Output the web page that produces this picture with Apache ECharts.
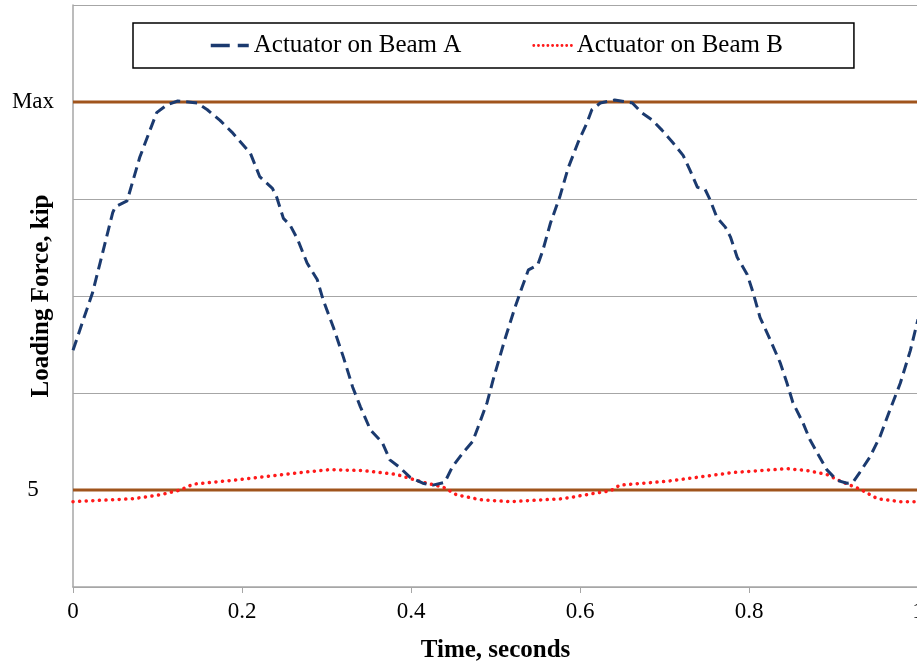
<!DOCTYPE html>
<html>
<head>
<meta charset="utf-8">
<script src="https://cdn.jsdelivr.net/npm/echarts@6/dist/echarts.min.js"></script>
<style>
html,body{margin:0;padding:0;background:#fff;}
#chart{width:917px;height:664px;}
</style>
</head>
<body>
<div id="chart"></div>
<script>
// ---- data ----
var seriesNames = ['Actuator on Beam A', 'Actuator on Beam B'];
var xTicks = [0, 0.2, 0.4, 0.6, 0.8, 1];
var yTickLabels = {1: '5', 5: 'Max'};
var refLevels = [1, 5];

var timeA = [0,0.012,0.023,0.032,0.047,0.050,0.064,0.079,0.099,0.111,0.124,0.147,0.159,0.174,0.188,0.210,0.221,0.236,0.241,0.249,0.257,0.266,0.277,0.289,0.296,0.308,0.320,0.331,0.340,0.352,0.366,0.375,0.387,0.399,0.414,0.426,0.440,0.449,0.462,0.473,0.479,0.490,0.497,0.511,0.523,0.531,0.539,0.550,0.556,0.565,0.576,0.586,0.598,0.608,0.614,0.624,0.641,0.662,0.673,0.686,0.697,0.710,0.722,0.730,0.739,0.748,0.754,0.762,0.772,0.778,0.786,0.798,0.805,0.813,0.825,0.837,0.845,0.852,0.864,0.872,0.881,0.892,0.904,0.916,0.923,0.931,0.943,0.955,0.967,0.979,0.991,1.0];
var forceA = [2.44,2.75,3.03,3.34,3.86,3.92,3.98,4.43,4.89,4.97,5.01,4.99,4.92,4.81,4.69,4.47,4.23,4.11,4.02,3.80,3.73,3.58,3.34,3.17,2.96,2.68,2.37,2.06,1.86,1.62,1.49,1.31,1.23,1.13,1.07,1.05,1.08,1.24,1.39,1.50,1.64,1.90,2.13,2.55,2.88,3.08,3.27,3.32,3.47,3.75,4.02,4.32,4.59,4.78,4.92,4.99,5.02,4.99,4.89,4.81,4.71,4.58,4.45,4.30,4.12,4.10,3.99,3.81,3.71,3.61,3.40,3.22,3.03,2.78,2.55,2.31,2.10,1.90,1.69,1.52,1.38,1.21,1.10,1.07,1.08,1.18,1.34,1.55,1.83,2.10,2.44,2.76];

var timeB = [0,0.071,0.103,0.127,0.142,0.189,0.269,0.304,0.343,0.383,0.414,0.438,0.454,0.482,0.517,0.580,0.620,0.636,0.647,0.703,0.781,0.845,0.869,0.892,0.911,0.931,0.952,0.979,1.0];
var forceB = [0.88,0.91,0.95,1.00,1.06,1.10,1.18,1.21,1.20,1.16,1.08,1.03,0.95,0.90,0.88,0.91,0.97,0.99,1.05,1.09,1.18,1.22,1.20,1.16,1.08,1.01,0.91,0.88,0.88];

// ---- build ----
function pairs(xs, ys){ return xs.map(function(x,i){ return [x, ys[i]]; }); }
var serif = "'Liberation Serif','Times New Roman',serif";
var navy = '#1B3A6F', red = '#FF1A1A';
var refSeries = refLevels.map(function(v){
  return {
    type:'line', silent:true, symbol:'none', z:1,
    data:[[xTicks[0], v],[xTicks[xTicks.length-1], v]],
    lineStyle:{color:'#A0541C', width:3}
  };
});

var chart = echarts.init(document.getElementById('chart'));
chart.setOption({
  animation:false,
  backgroundColor:'#fff',
  textStyle:{fontFamily:serif},
  grid:{left:73, top:5, right:-1, bottom:77, containLabel:false, outerBoundsMode:'none'},
  legend:{
    data:[
      {name:seriesNames[0], lineStyle:{color:navy, width:3.5, type:[19,8]}},
      {name:seriesNames[1], lineStyle:{color:red, width:2.8, type:[0.1,4.6], cap:'round'}}
    ],
    left:133, top:23,
    padding:[10,71,10,76],
    itemGap:71,
    itemWidth:38, itemHeight:14,
    borderColor:'#000', borderWidth:1.5,
    backgroundColor:'#fff',
    itemStyle:{opacity:0},
    textStyle:{fontFamily:serif, fontSize:25, color:'#000'}
  },
  xAxis:{
    type:'value', min:0, max:1, interval:0.2,
    name:'Time, seconds', nameLocation:'middle', nameGap:51, nameMoveOverlap:false,
    nameTextStyle:{fontFamily:serif, fontSize:25, fontWeight:'bold', color:'#000'},
    axisLine:{show:true, lineStyle:{color:'#A6A6A6', width:1.5}},
    axisTick:{show:true, length:6, lineStyle:{color:'#A6A6A6'}},
    axisLabel:{fontFamily:serif, fontSize:23, color:'#000', margin:13,
      formatter:function(v){ return String(+v.toFixed(1)); }},
    splitLine:{show:false}
  },
  yAxis:{
    type:'value', min:0, max:6, interval:1,
    name:'Loading Force, kip', nameLocation:'middle', nameGap:19, nameMoveOverlap:false,
    nameTextStyle:{fontFamily:serif, fontSize:25, fontWeight:'bold', color:'#000'},
    axisLine:{show:true, lineStyle:{color:'#A6A6A6', width:1.5}},
    axisTick:{show:false},
    axisLabel:{fontFamily:serif, fontSize:23, color:'#000', margin:40, align:'center',
      formatter:function(v){ return yTickLabels[v] || ''; }},
    splitLine:{show:true, lineStyle:{color:'#A6A6A6', width:1.2}}
  },
  series: refSeries.concat([
    {
      name:seriesNames[0], type:'line', symbol:'none', z:3,
      data:pairs(timeA, forceA),
      lineStyle:{color:navy, width:3, type:[11,6]},
      itemStyle:{color:navy}
    },
    {
      name:seriesNames[1], type:'line', symbol:'none', z:2,
      data:pairs(timeB, forceB),
      lineStyle:{color:red, width:3.5, type:[0.1,6.5], cap:'round'},
      itemStyle:{color:red}
    }
  ])
});
</script>
</body>
</html>
